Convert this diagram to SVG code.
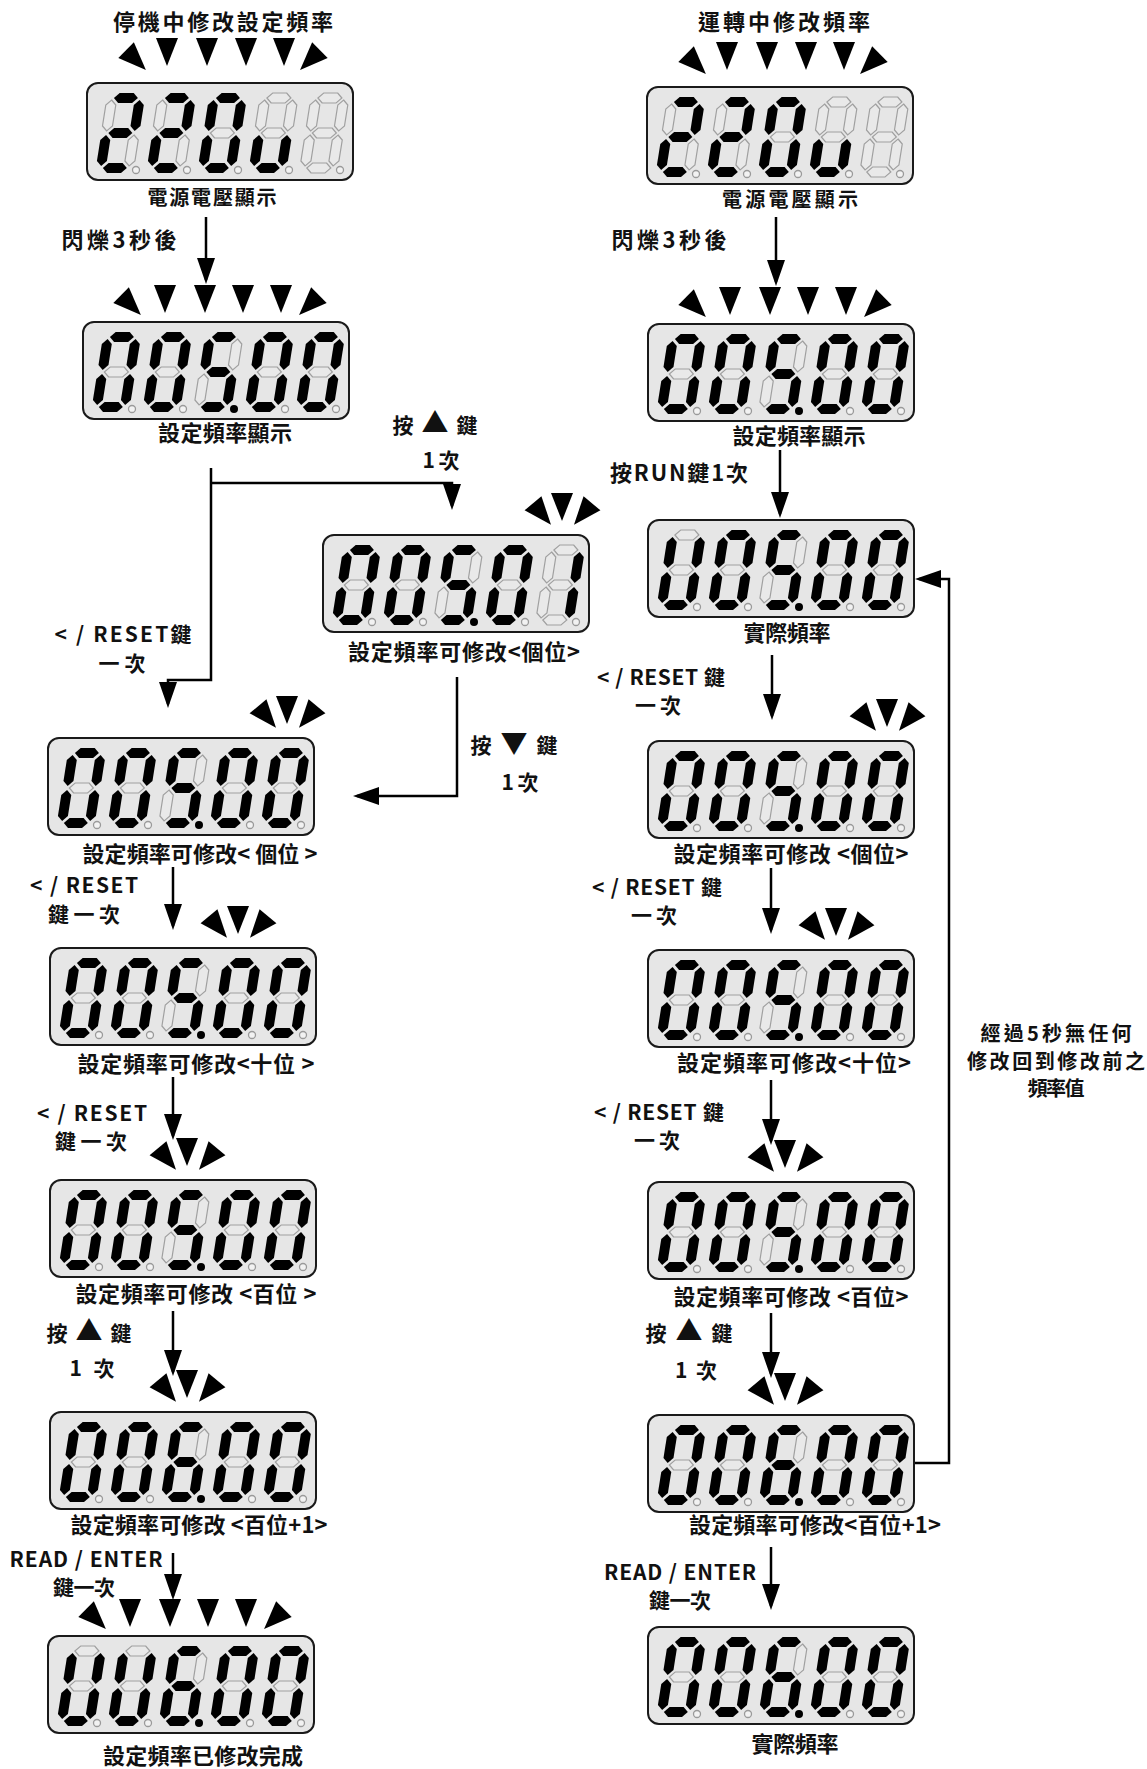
<svg xmlns="http://www.w3.org/2000/svg" xmlns:xlink="http://www.w3.org/1999/xlink" width="1147" height="1769" viewBox="0 0 1147 1769">
<style>
.box{fill:#e6e6e6;stroke:#1a1a1a;stroke-width:2}
.on{fill:#000}
.off{fill:#e9e9e9;stroke:#a0a0a0;stroke-width:1.2}
.dot{fill:#f2f2f2;stroke:#9a9a9a;stroke-width:1.3}
.doton{fill:#000}
.tri{fill:#000}
text{font-family:"Noto Sans CJK TC","Noto Sans CJK SC",sans-serif;font-weight:bold;font-size:21px;fill:#111;text-anchor:middle}
.lg{font-size:22px}
.big{font-size:27px}
.conn path{fill:none;stroke:#000;stroke-width:2.5}
</style>
<defs>
<polygon id="sa" points="7,5 12,0 26,0 31,5 26,10 12,10"/>
<polygon id="sg" points="7,40 12,35 26,35 31,40 26,45 12,45"/>
<polygon id="sd" points="7,75 12,70 26,70 31,75 26,80 12,80"/>
<polygon id="sf" points="5,7 10,12 10,33 5,38 0,33 0,12"/>
<polygon id="sb" points="33,7 38,12 38,33 33,38 28,33 28,12"/>
<polygon id="se" points="5,42 10,47 10,68 5,73 0,68 0,47"/>
<polygon id="sc" points="33,42 38,47 38,68 33,73 28,68 28,47"/>
<g id="d0" transform="translate(12.7,10) skewX(-9)"><use href="#sa" class="on"/><use href="#sb" class="on"/><use href="#sc" class="on"/><use href="#sd" class="on"/><use href="#se" class="on"/><use href="#sf" class="on"/><use href="#sg" class="off"/></g>
<g id="d0t" transform="translate(12.7,10) skewX(-9)"><use href="#sa" class="off"/><use href="#sb" class="on"/><use href="#sc" class="on"/><use href="#sd" class="on"/><use href="#se" class="on"/><use href="#sf" class="on"/><use href="#sg" class="off"/></g>
<g id="d2" transform="translate(12.7,10) skewX(-9)"><use href="#sa" class="on"/><use href="#sb" class="on"/><use href="#sc" class="off"/><use href="#sd" class="on"/><use href="#se" class="on"/><use href="#sf" class="off"/><use href="#sg" class="on"/></g>
<g id="du" transform="translate(12.7,10) skewX(-9)"><use href="#sa" class="off"/><use href="#sb" class="off"/><use href="#sc" class="on"/><use href="#sd" class="on"/><use href="#se" class="on"/><use href="#sf" class="off"/><use href="#sg" class="off"/></g>
<g id="dx" transform="translate(12.7,10) skewX(-9)"><use href="#sa" class="off"/><use href="#sb" class="off"/><use href="#sc" class="off"/><use href="#sd" class="off"/><use href="#se" class="off"/><use href="#sf" class="off"/><use href="#sg" class="off"/></g>
<g id="d5" transform="translate(12.7,10) skewX(-9)"><use href="#sa" class="on"/><use href="#sb" class="off"/><use href="#sc" class="on"/><use href="#sd" class="on"/><use href="#se" class="off"/><use href="#sf" class="on"/><use href="#sg" class="on"/></g>
<g id="d1" transform="translate(12.7,10) skewX(-9)"><use href="#sa" class="off"/><use href="#sb" class="on"/><use href="#sc" class="on"/><use href="#sd" class="off"/><use href="#se" class="off"/><use href="#sf" class="off"/><use href="#sg" class="off"/></g>
<g id="d6" transform="translate(12.7,10) skewX(-9)"><use href="#sa" class="on"/><use href="#sb" class="off"/><use href="#sc" class="on"/><use href="#sd" class="on"/><use href="#se" class="on"/><use href="#sf" class="on"/><use href="#sg" class="on"/></g>
<rect id="frame" class="box" width="266" height="97" rx="11"/>
<g id="dots0"><circle class="dot" cx="49" cy="87" r="3.5"/><circle class="dot" cx="100" cy="87" r="3.5"/><circle class="dot" cx="151" cy="87" r="3.5"/><circle class="dot" cx="202" cy="87" r="3.5"/><circle class="dot" cx="253" cy="87" r="3.5"/></g>
<g id="dots3"><circle class="dot" cx="49" cy="87" r="3.5"/><circle class="dot" cx="100" cy="87" r="3.5"/><circle class="doton" cx="151" cy="87" r="4"/><circle class="dot" cx="202" cy="87" r="3.5"/><circle class="dot" cx="253" cy="87" r="3.5"/></g>
<g id="v220"><use href="#frame"/><use href="#d2" x="8"/><use href="#d2" x="59"/><use href="#d0" x="110"/><use href="#du" x="161"/><use href="#dx" x="212"/><use href="#dots0"/></g>
<g id="v500"><use href="#frame"/><use href="#d0" x="8"/><use href="#d0" x="59"/><use href="#d5" x="110"/><use href="#d0" x="161"/><use href="#d0" x="212"/><use href="#dots3"/></g>
<g id="v500t"><use href="#frame"/><use href="#d0t" x="8"/><use href="#d0" x="59"/><use href="#d5" x="110"/><use href="#d0" x="161"/><use href="#d0" x="212"/><use href="#dots3"/></g>
<g id="v501"><use href="#frame"/><use href="#d0" x="8"/><use href="#d0" x="59"/><use href="#d5" x="110"/><use href="#d0" x="161"/><use href="#d1" x="212"/><use href="#dots3"/></g>
<g id="v600"><use href="#frame"/><use href="#d0" x="8"/><use href="#d0" x="59"/><use href="#d6" x="110"/><use href="#d0" x="161"/><use href="#d0" x="212"/><use href="#dots3"/></g>
<g id="v600t"><use href="#frame"/><use href="#d0t" x="8"/><use href="#d0t" x="59"/><use href="#d6" x="110"/><use href="#d0" x="161"/><use href="#d0" x="212"/><use href="#dots3"/></g>
<path id="tri" d="M-11,-14 L11,-14 L0,14 Z"/>
<g id="row6a" class="tri"><use href="#tri" transform="translate(49,-23) rotate(-45)"/><use href="#tri" transform="translate(80,-31)"/><use href="#tri" transform="translate(120,-31)"/><use href="#tri" transform="translate(159,-31)"/><use href="#tri" transform="translate(197,-31)"/><use href="#tri" transform="translate(223,-23) rotate(45)"/></g>
<g id="row6b" class="tri"><use href="#tri" transform="translate(48,-17) rotate(-45)"/><use href="#tri" transform="translate(82,-23)"/><use href="#tri" transform="translate(122,-23)"/><use href="#tri" transform="translate(160,-23)"/><use href="#tri" transform="translate(198,-23)"/><use href="#tri" transform="translate(226,-17) rotate(45)"/></g>
<g id="clus" class="tri"><use href="#tri" transform="translate(7,-21) rotate(-40)"/><use href="#tri" transform="translate(27,-28)"/><use href="#tri" transform="translate(48,-21) rotate(40)"/></g>
<marker id="ah" viewBox="0 0 26 18" refX="22" refY="9" markerWidth="26" markerHeight="18" markerUnits="userSpaceOnUse" orient="auto"><path d="M0,0 L26,9 L0,18 Z" fill="#000"/></marker>
</defs>

<g id="connectors" class="conn">
<path d="M206,217 V280" marker-end="url(#ah)"/>
<path d="M776,217 V282" marker-end="url(#ah)"/>
<path d="M211,468 V680 H168 V704" marker-end="url(#ah)"/>
<path d="M211,483 H452 V506" marker-end="url(#ah)"/>
<path d="M457,677 V796 H357" marker-end="url(#ah)"/>
<path d="M780,450 V514" marker-end="url(#ah)"/>
<path d="M772,655 V716" marker-end="url(#ah)"/>
<path d="M173,867 V926" marker-end="url(#ah)"/>
<path d="M771,868 V930" marker-end="url(#ah)"/>
<path d="M173,1077 V1136" marker-end="url(#ah)"/>
<path d="M771,1080 V1141" marker-end="url(#ah)"/>
<path d="M173,1311 V1372" marker-end="url(#ah)"/>
<path d="M771,1313 V1374" marker-end="url(#ah)"/>
<path d="M173,1553 V1596" marker-end="url(#ah)"/>
<path d="M771,1547 V1606" marker-end="url(#ah)"/>
<path d="M914,1463 H949 V579 H919" marker-end="url(#ah)"/>
</g>

<g id="title-left"><text class="lg" x="223" y="30" textLength="220">停機中修改設定頻率</text></g>
<g id="title-right"><text class="lg" x="784" y="30" textLength="172">運轉中修改頻率</text></g>

<g id="L1" transform="translate(87,83)"><use href="#row6a"/><use href="#v220"/></g>
<text x="212" y="205" style="font-size:20px" textLength="129">電源電壓顯示</text>
<text class="lg" x="119" y="248" textLength="115">閃爍3秒後</text>

<g id="L2" transform="translate(83,322)"><use href="#row6b"/><use href="#v500"/></g>
<text class="lg" x="225" y="441" textLength="134">設定頻率顯示</text>

<g id="lbl-up1"><text x="435" y="433" textLength="85">按 <tspan class="big">▲</tspan> 鍵</text><text x="441" y="468" textLength="37">1次</text></g>

<g id="M3" transform="translate(323,535)"><use href="#v501"/></g>
<g transform="translate(535,535)"><use href="#clus"/></g>
<text class="lg" x="464" y="660" textLength="232">設定頻率可修改&lt;個位&gt;</text>
<g id="lbl-down1"><text x="514" y="753" textLength="87">按 <tspan class="big">▼</tspan> 鍵</text><text x="520" y="790" textLength="37">1次</text></g>

<g id="lbl-reset0"><text x="123" y="642" textLength="137">&lt; / RESET鍵</text><text x="122" y="671" textLength="47">一次</text></g>

<g id="L4" transform="translate(48,738)"><use href="#v500"/></g>
<g transform="translate(260,738)"><use href="#clus"/></g>
<text class="lg" x="200" y="862" textLength="235">設定頻率可修改&lt; 個位 &gt;</text>
<g id="lbl-reset1"><text x="84" y="893" textLength="108">&lt; / RESET</text><text x="84" y="922" textLength="72">鍵一次</text></g>

<g id="L5" transform="translate(50,948)"><use href="#v500"/></g>
<g transform="translate(211,948)"><use href="#clus"/></g>
<text class="lg" x="196" y="1072" textLength="237">設定頻率可修改&lt;十位 &gt;</text>
<g id="lbl-reset2"><text x="92" y="1121" textLength="110">&lt; / RESET</text><text x="91" y="1149" textLength="72">鍵一次</text></g>

<g id="L6" transform="translate(50,1180)"><use href="#v500"/></g>
<g transform="translate(160,1180)"><use href="#clus"/></g>
<text class="lg" x="196" y="1302" textLength="241">設定頻率可修改 &lt;百位 &gt;</text>
<g id="lbl-up2"><text x="89" y="1341" textLength="85">按 <tspan class="big">▲</tspan> 鍵</text><text x="92" y="1376" textLength="45">1 次</text></g>

<g id="L7" transform="translate(50,1412)"><use href="#v600"/></g>
<g transform="translate(160,1412)"><use href="#clus"/></g>
<text class="lg" x="199" y="1533" textLength="257">設定頻率可修改 &lt;百位+1&gt;</text>
<g id="lbl-enter1"><text x="86" y="1567" textLength="153">READ / ENTER</text><text x="84" y="1595" textLength="62">鍵一次</text></g>

<g id="L8" transform="translate(48,1636)"><use href="#row6b"/><use href="#v600t"/></g>
<text class="lg" x="203" y="1764" textLength="200">設定頻率已修改完成</text>

<g id="R1" transform="translate(647,87)"><use href="#row6a"/><use href="#v220"/></g>
<text x="790" y="207" style="font-size:20px" textLength="136">電源電壓顯示</text>
<text class="lg" x="669" y="248" textLength="115">閃爍3秒後</text>

<g id="R2" transform="translate(648,324)"><use href="#row6b"/><use href="#v500"/></g>
<text class="lg" x="799" y="444" textLength="133">設定頻率顯示</text>
<text class="lg" x="679" y="481" textLength="138">按RUN鍵1次</text>

<g id="R3" transform="translate(648,520)"><use href="#v500t"/></g>
<text class="lg" x="787" y="641" textLength="87">實際頻率</text>
<g id="lbl-r-reset1"><text x="661" y="685" textLength="128">&lt; / RESET 鍵</text><text x="658" y="713" textLength="46">一次</text></g>

<g id="R4" transform="translate(648,741)"><use href="#v500"/></g>
<g transform="translate(860,741)"><use href="#clus"/></g>
<text class="lg" x="791" y="862" textLength="235">設定頻率可修改 &lt;個位&gt;</text>
<g id="lbl-r-reset2"><text x="657" y="895" textLength="130">&lt; / RESET 鍵</text><text x="654" y="923" textLength="46">一次</text></g>

<g id="R5" transform="translate(648,950)"><use href="#v500"/></g>
<g transform="translate(809,950)"><use href="#clus"/></g>
<text class="lg" x="794" y="1071" textLength="234">設定頻率可修改&lt;十位&gt;</text>
<g id="lbl-r-reset3"><text x="659" y="1120" textLength="130">&lt; / RESET 鍵</text><text x="657" y="1148" textLength="46">一次</text></g>

<g id="R6" transform="translate(648,1182)"><use href="#v500"/></g>
<g transform="translate(758,1182)"><use href="#clus"/></g>
<text class="lg" x="791" y="1305" textLength="235">設定頻率可修改 &lt;百位&gt;</text>
<g id="lbl-r-up"><text x="689" y="1341" textLength="87">按 <tspan class="big">▲</tspan> 鍵</text><text x="696" y="1378" textLength="42">1 次</text></g>

<g id="R7" transform="translate(648,1415)"><use href="#v600"/></g>
<g transform="translate(758,1415)"><use href="#clus"/></g>
<text class="lg" x="815" y="1533" textLength="252">設定頻率可修改&lt;百位+1&gt;</text>
<g id="lbl-r-enter"><text x="680" y="1580" textLength="152">READ / ENTER</text><text x="680" y="1608" textLength="62">鍵一次</text></g>

<g id="R8" transform="translate(648,1627)"><use href="#v600"/></g>
<text class="lg" x="795" y="1752" textLength="87">實際頻率</text>

<g id="lbl-timeout"><text x="1056" y="1041" style="font-size:20px" textLength="151">經過5秒無任何</text><text x="1056" y="1069" style="font-size:20px" textLength="178">修改回到修改前之</text><text x="1056" y="1096" style="font-size:20px" textLength="57">頻率值</text></g>
</svg>
